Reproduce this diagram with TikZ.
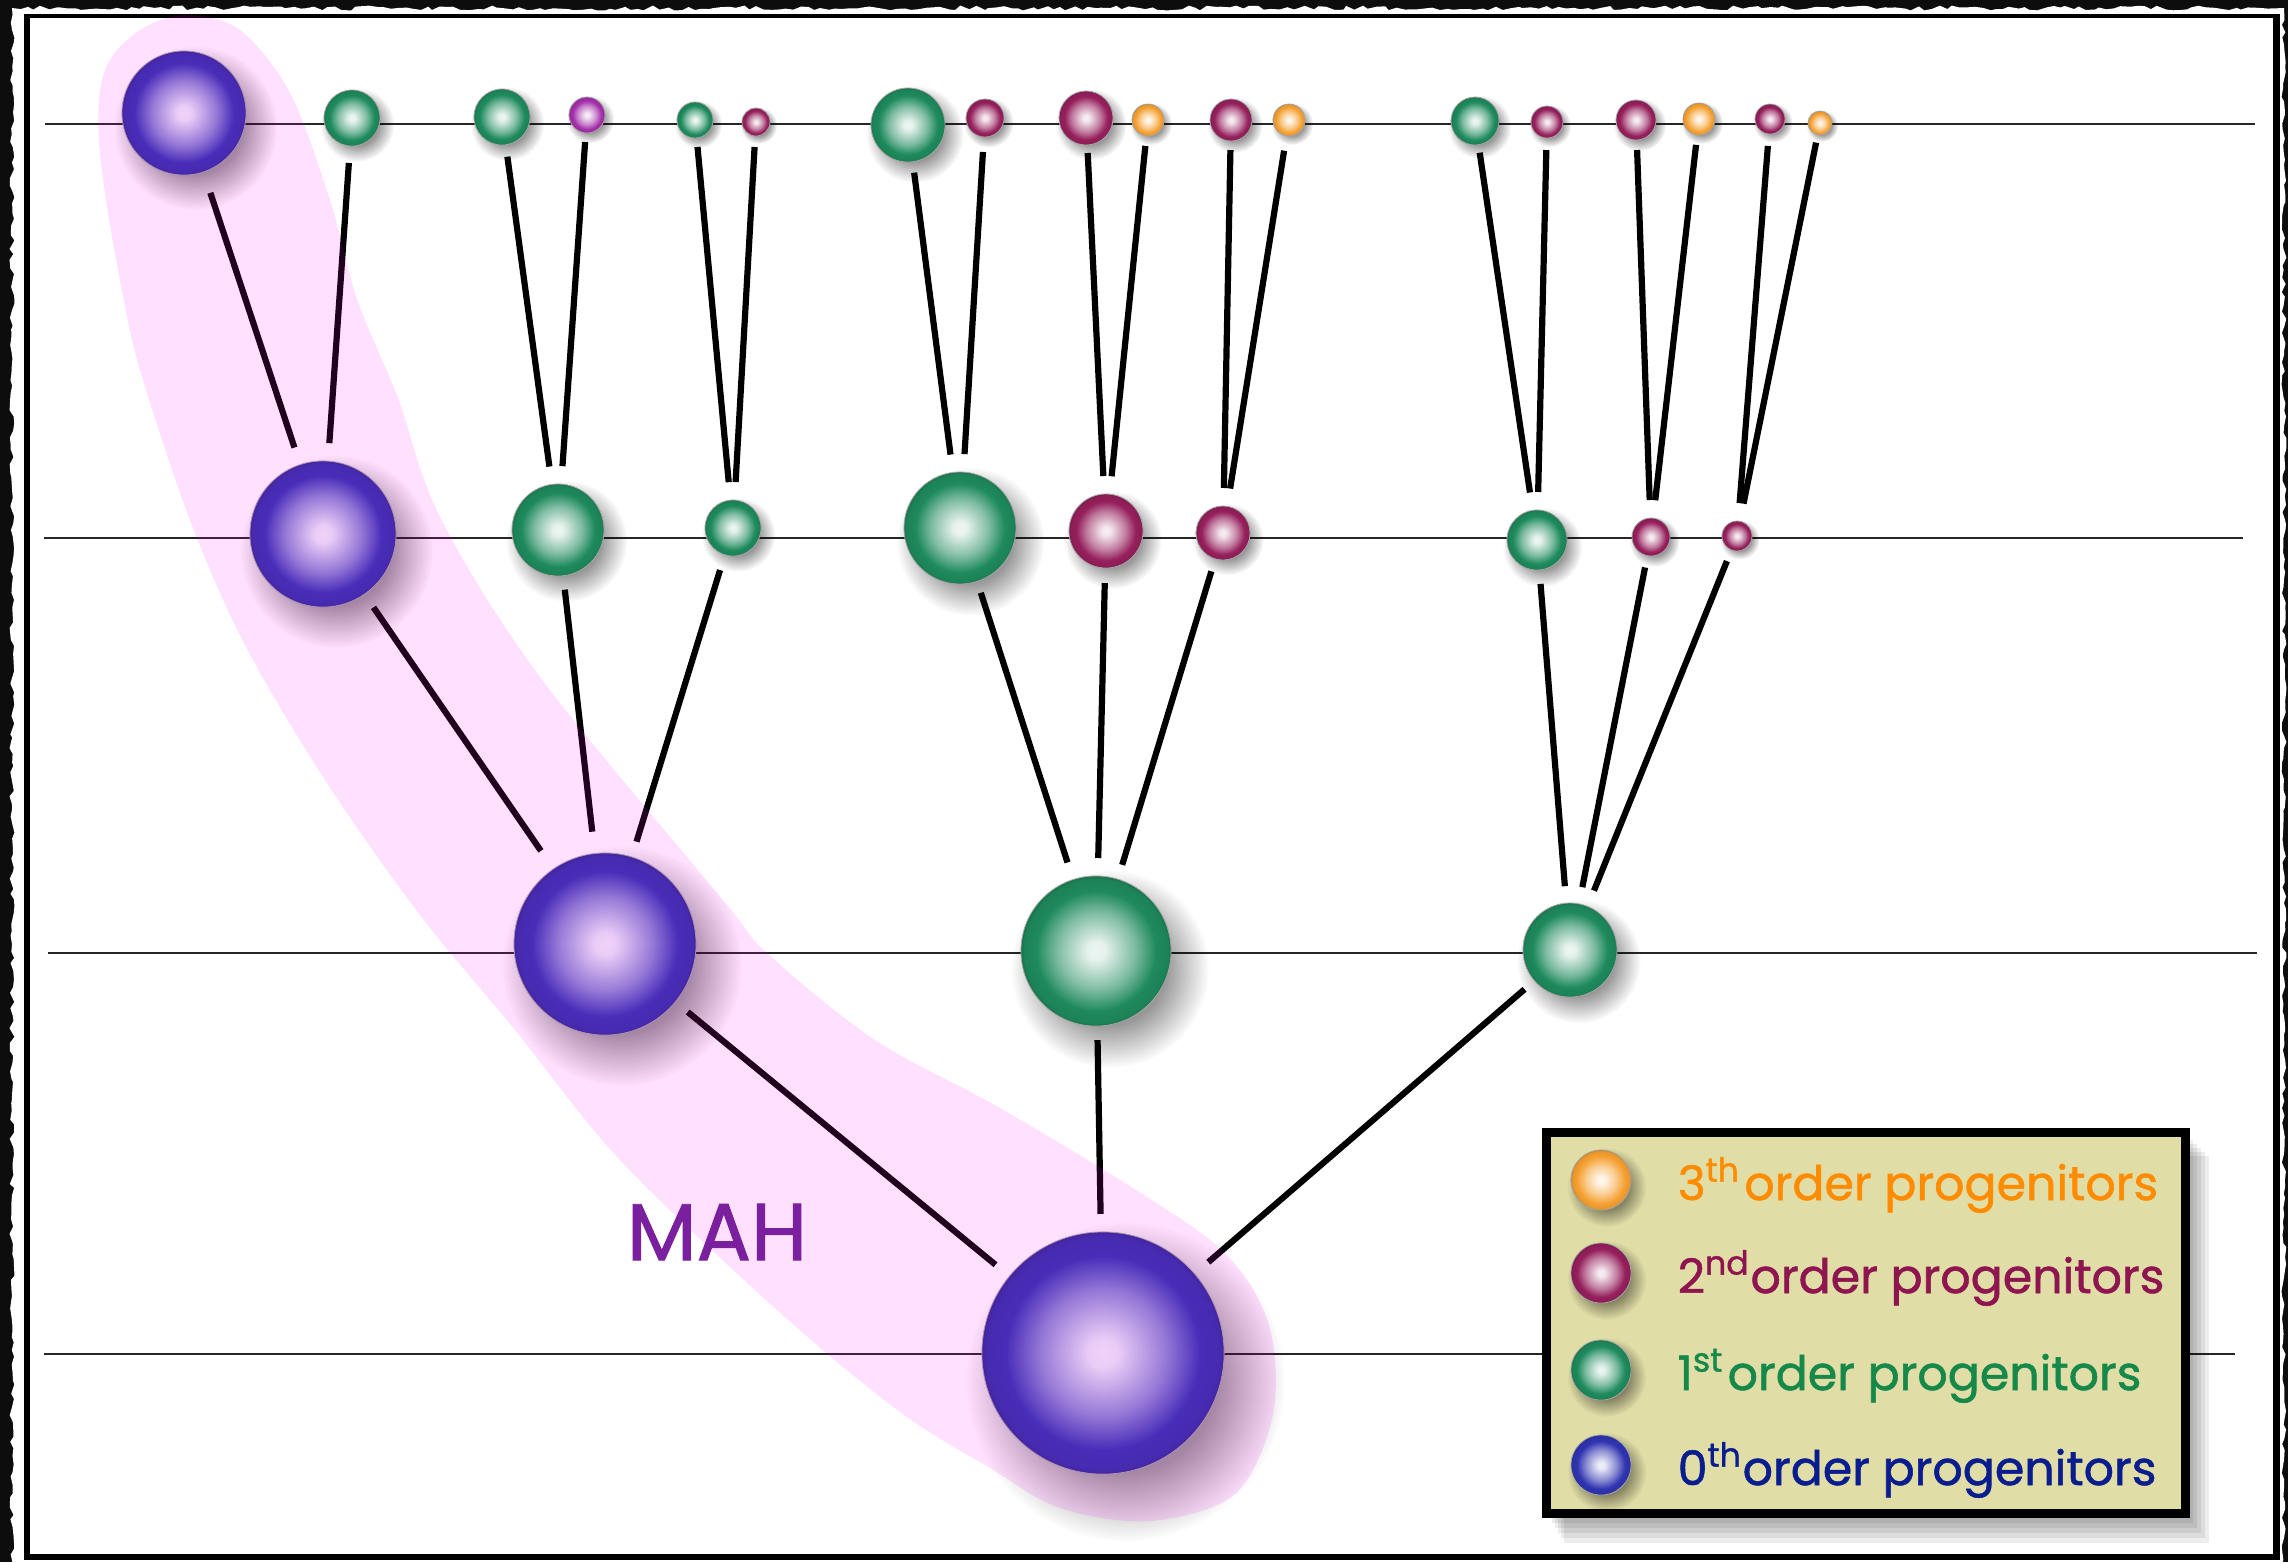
\documentclass[tikz,border=0pt]{standalone}
\usepackage{fontspec}
\newfontfamily\comic{Poppins}[FakeBold=1.2]
\usetikzlibrary{shadows,fadings,decorations.pathmorphing}

% ball colours
\definecolor{gcol}{HTML}{1E8A5C}
\definecolor{mcol}{HTML}{951F5C}
\definecolor{ocol}{HTML}{F5A030}
\definecolor{vcol}{HTML}{A32FAA}
\definecolor{bcol}{HTML}{3034B0}
% text colours
\definecolor{otext}{HTML}{FF8C00}
\definecolor{mtext}{HTML}{8E1550}
\definecolor{gtext}{HTML}{15884A}
\definecolor{btext}{HTML}{0A1D8F}
\definecolor{mahcol}{HTML}{7A1F9E}
\definecolor{legbg}{HTML}{E0DEA6}
\definecolor{bandcol}{rgb}{1,0,1}

% soft shadow under every ball
\pgfdeclareradialshading{ballfadeshade}{\pgfpointorigin}{color(0bp)=(pgftransparent!0); color(14bp)=(pgftransparent!20); color(25bp)=(pgftransparent!100); color(50bp)=(pgftransparent!100)}
\pgfdeclarefading{ballfade}{\pgfuseshading{ballfadeshade}}

% glossy sphere shading, highlight in the middle
\newcommand\declareball[2]{\pgfdeclareradialshading{#1}{\pgfpointorigin}{color(0bp)=(#2!8!white); color(3bp)=(#2!11!white); color(13bp)=(#2!58!white); color(20bp)=(#2); color(24bp)=(#2!94!black); color(25bp)=(#2!82!black); color(50bp)=(#2!82!black)}}
\declareball{greenball}{gcol}
\declareball{maroonball}{mcol}
\declareball{orangeball}{ocol}
\declareball{violetball}{vcol}
\declareball{blueball}{bcol}

\pgfdeclarelayer{bg}
\pgfdeclarelayer{lines}
\pgfsetlayers{bg,lines,main}

\begin{document}
\begin{tikzpicture}[x=0.01cm, y=-0.01cm,
  ball/.style 2 args={circle, inner sep=0pt, outer sep=0pt, minimum size={#2*0.02cm},
    shade, shading=#1, draw=black!35, line width=0.008cm,
    circular drop shadow={fill=black, opacity=0.5, shadow scale=1.32,
      shadow xshift={#2*0.0014cm}, shadow yshift={-#2*0.0018cm}, path fading=ballfade}},
  gball/.style={ball={greenball}{#1}},
  mball/.style={ball={maroonball}{#1}},
  oball/.style={ball={orangeball}{#1}},
  vball/.style={ball={violetball}{#1}},
  bball/.style={ball={blueball}{#1}},
  link/.style={line width=0.062cm, black, shorten <=0.12cm, shorten >=0.18cm},
  hline/.style={line width=0.02cm, black!85},
  legtext/.style={anchor=base west, inner sep=0pt, font=\comic\fontsize{13.5}{15}\selectfont}
]
\useasboundingbox (0,0) rectangle (2288,1562);

% ---- frame ----
\begin{pgfonlayer}{bg}
  \fill[black!95] (0,0) rectangle (2288,1562);
  \pgfmathsetseed{7}
  \fill[white, decorate, decoration={random steps, segment length=2pt, amplitude=0.7pt}]
    (12,8) rectangle (2284,1572);
  \fill[black] (24,14) rectangle (2280,1560);
  \fill[white] (30,18) rectangle (2273,1554);
\end{pgfonlayer}

% ---- level lines ----
\begin{pgfonlayer}{lines}
  \draw[hline] (45,124) -- (2255,124);
  \draw[hline] (44,538) -- (2243,538);
  \draw[hline] (48,953) -- (2257,953);
  \draw[hline] (44,1354) -- (2235,1354);
\end{pgfonlayer}

% ---- progenitors, top level ----
\node[bball=62] (a1) at (184,113) {};
\node[gball=28] (a2) at (352,118) {};
\node[gball=28] (a3) at (502,117) {};
\node[vball=18] (a4) at (587,115) {};
\node[gball=18] (a5) at (695,120) {};
\node[mball=14] (a6) at (756,122) {};
\node[gball=37] (a7) at (908,125) {};
\node[mball=19] (a8) at (985,118) {};
\node[mball=27] (a9) at (1086,118) {};
\node[oball=16] (a10) at (1148,120) {};
\node[mball=21] (a11) at (1231,120) {};
\node[oball=16] (a12) at (1289,120) {};
\node[gball=24] (a13) at (1475,121) {};
\node[mball=16] (a14) at (1547,122) {};
\node[mball=20] (a15) at (1636,120) {};
\node[oball=16] (a16) at (1699,119) {};
\node[mball=15] (a17) at (1770,119) {};
\node[oball=12] (a18) at (1820,123) {};

% ---- second level ----
\node[bball=73] (b1) at (323,534) {};
\node[gball=46] (b2) at (558,530) {};
\node[gball=28] (b3) at (733,528) {};
\node[gball=56] (b4) at (960,528) {};
\node[mball=37] (b5) at (1106,531) {};
\node[mball=27] (b6) at (1223,533) {};
\node[gball=30] (b7) at (1537,540) {};
\node[mball=19] (b8) at (1651,537) {};
\node[mball=15] (b9) at (1737,536) {};

% ---- third level ----
\node[bball=91] (c1) at (605,944) {};
\node[gball=75] (c2) at (1096,951) {};
\node[gball=47] (c3) at (1570,950) {};

% ---- final halo ----
\node[bball=121] (d1) at (1103,1353) {};

% ---- merger links ----
\begin{pgfonlayer}{lines}
  \draw[link, shorten <=0.22cm] (a1) -- (b1);
  \draw[link, shorten <=0.17cm] (a2) -- (b1);
  \draw[link] (a3) -- (b2);
  \draw[link, shorten <=0.09cm] (a4) -- (b2);
  \draw[link, shorten <=0.09cm] (a5) -- (b3);
  \draw[link, shorten <=0.11cm] (a6) -- (b3);
  \draw[link, shorten <=0.11cm] (a7) -- (b4);
  \draw[link, shorten <=0.15cm] (a8) -- (b4);
  \draw[link, shorten <=0.08cm] (a9) -- (b5);
  \draw[link, shorten <=0.10cm] (a10) -- (b5);
  \draw[link, shorten <=0.09cm] (a11) -- (b6);
  \draw[link, shorten <=0.15cm] (a12) -- (b6);
  \draw[link, shorten <=0.08cm] (a13) -- (b7);
  \draw[link] (a14) -- (b7);
  \draw[link, shorten <=0.10cm] (a15) -- (b8);
  \draw[link, shorten <=0.10cm] (a16) -- (b8);
  \draw[link] (a17) -- (b9);
  \draw[link, shorten <=0.08cm] (a18) -- (b9);

  \draw[link, shorten <=0.16cm, shorten >=0.22cm] (b1) -- (c1);
  \draw[link, shorten <=0.14cm, shorten >=0.22cm] (b2) -- (c1);
  \draw[link, shorten <=0.16cm, shorten >=0.16cm] (b3) -- (c1);
  \draw[link] (b4) -- (c2);
  \draw[link, shorten <=0.15cm] (b5) -- (c2);
  \draw[link, shorten <=0.13cm, shorten >=0.15cm] (b6) -- (c2);
  \draw[link, shorten <=0.14cm, shorten >=0.17cm] (b7) -- (c3);
  \draw[link, shorten >=0.17cm] (b8) -- (c3);
  \draw[link, shorten >=0.17cm] (b9) -- (c3);

  \draw[link, shorten <=0.16cm] (c1) -- (d1);
  \draw[link, shorten <=0.14cm] (c2) -- (d1);
  \draw[link, shorten <=0.13cm] (c3) -- (d1);
\end{pgfonlayer}

% ---- main branch highlight ----
\fill[bandcol, fill opacity=0.12] plot[smooth cycle, tension=0.55] coordinates {
  (187,15) (240,30) (290,93) (330,200) (357,299) (398,398) (440,517) (540,677)
  (723,900) (767,953) (875,1040) (1000,1108) (1144,1195) (1227,1255) (1269,1325)
  (1273,1414) (1235,1494) (1150,1521) (1060,1508) (990,1468) (900,1412) (777,1310)
  (620,1160) (515,1030) (420,915) (325,780) (245,645) (190,520) (140,370) (120,280)
  (106,200) (99,140) (100,90) (113,55) (145,27)};
\node[text=mahcol, font=\comic\fontsize{23}{26}\selectfont] (mah) at (717,1232) {MAH};

% ---- legend ----
\foreach \k in {1,...,6}
  \fill[black, opacity=0.07] (1546+\k*3,1132+\k*4) rectangle (2185+\k*4,1513+\k*5);
\draw[line width=0.09cm, fill=legbg] (1546,1132) rectangle (2185,1513);
\node[oball=30] (l1) at (1601,1180) {};
\node[mball=30] (l2) at (1601,1273) {};
\node[gball=30] (l3) at (1601,1370) {};
\node[ball={blueball}{30}] (l4) at (1601,1465) {};
\node[legtext, text=otext] (t1) at (1677,1200) {3\textsuperscript{th}\kern1pt order progenitors};
\node[legtext, text=mtext] (t2) at (1677,1293) {2\textsuperscript{nd}order progenitors};
\node[legtext, text=gtext] (t3) at (1677,1390) {1\textsuperscript{st}\kern1pt order progenitors};
\node[legtext, text=btext] (t4) at (1677,1485) {0\textsuperscript{th}order progenitors};
\end{tikzpicture}
\end{document}
